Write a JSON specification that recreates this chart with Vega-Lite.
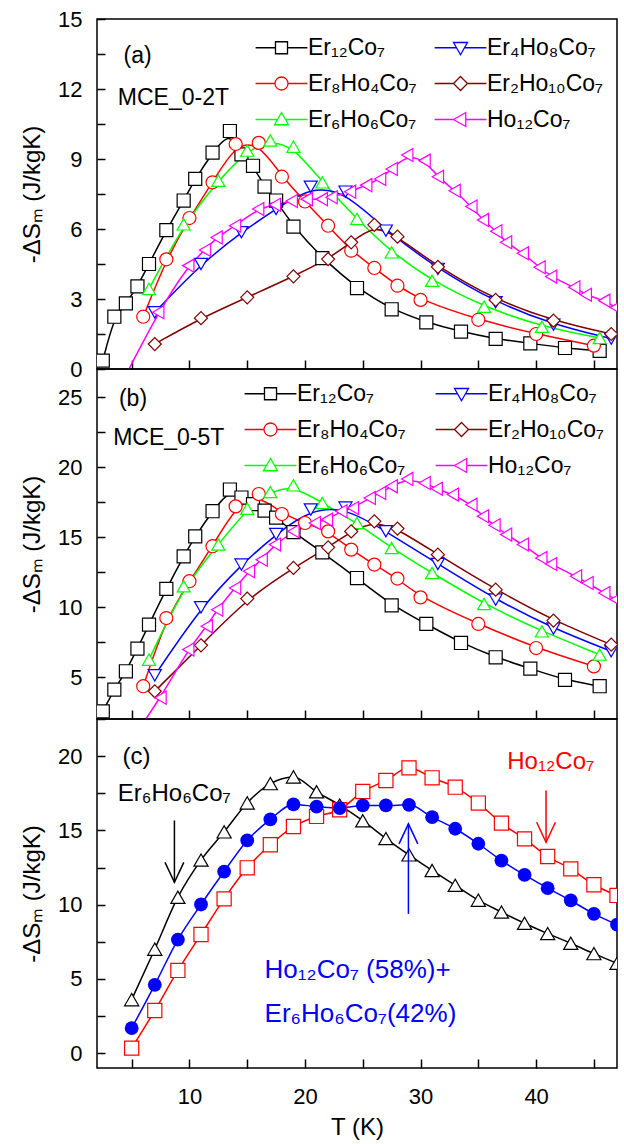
{
  "$schema": "https://vega.github.io/schema/vega-lite/v6.json",
  "background": "white",
  "padding": {"left": 19, "top": 7, "right": 5, "bottom": 5},
  "config": {
    "font": "Liberation Sans",
    "view": {"stroke": "black", "strokeWidth": 1.5},
    "axis": {"labelFont": "Liberation Sans", "labelFontSize": 22, "labelColor": "black", "titleFont": "Liberation Sans", "titleFontSize": 24, "titleFontWeight": "normal", "titleColor": "black", "tickColor": "black", "tickWidth": 1.5, "domain": false, "grid": false},
    "legend": {"labelFont": "Liberation Sans", "labelFontSize": 23, "labelColor": "black"}
  },
  "spacing": 0,
  "bounds": "flush",
  "resolve": {"scale": {"color": "independent", "shape": "independent"}, "legend": {"color": "independent", "shape": "independent"}},
  "datasets": {
    "a": [
      {"s":"Er₁₂Co₇","T":2.5,"v":0.36},{"s":"Er₁₂Co₇","T":3.5,"v":2.24},{"s":"Er₁₂Co₇","T":4.5,"v":2.81},{"s":"Er₁₂Co₇","T":5.5,"v":3.54},{"s":"Er₁₂Co₇","T":6.5,"v":4.5},{"s":"Er₁₂Co₇","T":8,"v":5.95},{"s":"Er₁₂Co₇","T":9.5,"v":7.22},{"s":"Er₁₂Co₇","T":10.5,"v":8.15},{"s":"Er₁₂Co₇","T":12,"v":9.27},{"s":"Er₁₂Co₇","T":13.5,"v":10.2},{"s":"Er₁₂Co₇","T":14.5,"v":9.2},{"s":"Er₁₂Co₇","T":15.5,"v":8.71},{"s":"Er₁₂Co₇","T":16.5,"v":7.82},{"s":"Er₁₂Co₇","T":17.5,"v":7.22},{"s":"Er₁₂Co₇","T":19,"v":6.1},{"s":"Er₁₂Co₇","T":21.5,"v":4.75},{"s":"Er₁₂Co₇","T":24.5,"v":3.47},{"s":"Er₁₂Co₇","T":27.5,"v":2.56},{"s":"Er₁₂Co₇","T":30.5,"v":2.0},{"s":"Er₁₂Co₇","T":33.5,"v":1.6},{"s":"Er₁₂Co₇","T":36.5,"v":1.29},{"s":"Er₁₂Co₇","T":39.5,"v":1.1},{"s":"Er₁₂Co₇","T":42.5,"v":0.9},{"s":"Er₁₂Co₇","T":45.5,"v":0.78},
      {"s":"Er₈Ho₄Co₇","T":6,"v":2.24},{"s":"Er₈Ho₄Co₇","T":8,"v":4.7},{"s":"Er₈Ho₄Co₇","T":10,"v":6.47},{"s":"Er₈Ho₄Co₇","T":12,"v":8.0},{"s":"Er₈Ho₄Co₇","T":14,"v":9.64},{"s":"Er₈Ho₄Co₇","T":16,"v":9.69},{"s":"Er₈Ho₄Co₇","T":18,"v":8.24},{"s":"Er₈Ho₄Co₇","T":20,"v":7.18},{"s":"Er₈Ho₄Co₇","T":22,"v":6.14},{"s":"Er₈Ho₄Co₇","T":24,"v":5.07},{"s":"Er₈Ho₄Co₇","T":26,"v":4.33},{"s":"Er₈Ho₄Co₇","T":28,"v":3.57},{"s":"Er₈Ho₄Co₇","T":30,"v":2.96},{"s":"Er₈Ho₄Co₇","T":35,"v":2.11},{"s":"Er₈Ho₄Co₇","T":40,"v":1.5},{"s":"Er₈Ho₄Co₇","T":45,"v":1.0},
      {"s":"Er₆Ho₆Co₇","T":6.5,"v":3.43},{"s":"Er₆Ho₆Co₇","T":9.5,"v":6.2},{"s":"Er₆Ho₆Co₇","T":12.5,"v":8.07},{"s":"Er₆Ho₆Co₇","T":15,"v":9.36},{"s":"Er₆Ho₆Co₇","T":17,"v":9.79},{"s":"Er₆Ho₆Co₇","T":19,"v":9.53},{"s":"Er₆Ho₆Co₇","T":21.5,"v":8.0},{"s":"Er₆Ho₆Co₇","T":24.5,"v":6.43},{"s":"Er₆Ho₆Co₇","T":27.5,"v":5.0},{"s":"Er₆Ho₆Co₇","T":31,"v":3.78},{"s":"Er₆Ho₆Co₇","T":35.5,"v":2.67},{"s":"Er₆Ho₆Co₇","T":40.5,"v":1.81},{"s":"Er₆Ho₆Co₇","T":45.5,"v":1.33},
      {"s":"Er₄Ho₈Co₇","T":7,"v":2.43},{"s":"Er₄Ho₈Co₇","T":11,"v":4.5},{"s":"Er₄Ho₈Co₇","T":14.5,"v":5.86},{"s":"Er₄Ho₈Co₇","T":17.5,"v":6.86},{"s":"Er₄Ho₈Co₇","T":20.5,"v":7.81},{"s":"Er₄Ho₈Co₇","T":23.5,"v":7.6},{"s":"Er₄Ho₈Co₇","T":27,"v":5.93},{"s":"Er₄Ho₈Co₇","T":31.5,"v":4.29},{"s":"Er₄Ho₈Co₇","T":36.5,"v":2.86},{"s":"Er₄Ho₈Co₇","T":41.5,"v":1.9},{"s":"Er₄Ho₈Co₇","T":46.5,"v":1.3},
      {"s":"Er₂Ho₁₀Co₇","T":7,"v":1.07},{"s":"Er₂Ho₁₀Co₇","T":11,"v":2.18},{"s":"Er₂Ho₁₀Co₇","T":15,"v":3.07},{"s":"Er₂Ho₁₀Co₇","T":19,"v":3.97},{"s":"Er₂Ho₁₀Co₇","T":22,"v":4.71},{"s":"Er₂Ho₁₀Co₇","T":24,"v":5.43},{"s":"Er₂Ho₁₀Co₇","T":26,"v":6.18},{"s":"Er₂Ho₁₀Co₇","T":28,"v":5.67},{"s":"Er₂Ho₁₀Co₇","T":31.5,"v":4.38},{"s":"Er₂Ho₁₀Co₇","T":36.5,"v":2.96},{"s":"Er₂Ho₁₀Co₇","T":41.5,"v":2.07},{"s":"Er₂Ho₁₀Co₇","T":46.5,"v":1.5},
      {"s":"Ho₁₂Co₇","T":4.25,"v":-0.5},{"s":"Ho₁₂Co₇","T":7.3,"v":2.43},{"s":"Ho₁₂Co₇","T":9.9,"v":4.43},{"s":"Ho₁₂Co₇","T":11.35,"v":5.1},{"s":"Ho₁₂Co₇","T":12.35,"v":5.64},{"s":"Ho₁₂Co₇","T":13.95,"v":6.14},{"s":"Ho₁₂Co₇","T":15.95,"v":6.86},{"s":"Ho₁₂Co₇","T":17.4,"v":7.04},{"s":"Ho₁₂Co₇","T":18.85,"v":7.2},{"s":"Ho₁₂Co₇","T":20.15,"v":7.28},{"s":"Ho₁₂Co₇","T":21.45,"v":7.28},{"s":"Ho₁₂Co₇","T":22.3,"v":7.36},{"s":"Ho₁₂Co₇","T":23.9,"v":7.6},{"s":"Ho₁₂Co₇","T":25.3,"v":7.88},{"s":"Ho₁₂Co₇","T":26.5,"v":8.14},{"s":"Ho₁₂Co₇","T":27.5,"v":8.57},{"s":"Ho₁₂Co₇","T":28.85,"v":9.17},{"s":"Ho₁₂Co₇","T":30.35,"v":8.93},{"s":"Ho₁₂Co₇","T":31.5,"v":8.24},{"s":"Ho₁₂Co₇","T":32.95,"v":7.64},{"s":"Ho₁₂Co₇","T":34.4,"v":6.96},{"s":"Ho₁₂Co₇","T":35.4,"v":6.39},{"s":"Ho₁₂Co₇","T":36.55,"v":5.9},{"s":"Ho₁₂Co₇","T":37.4,"v":5.43},{"s":"Ho₁₂Co₇","T":38.85,"v":4.96},{"s":"Ho₁₂Co₇","T":40.3,"v":4.36},{"s":"Ho₁₂Co₇","T":41.3,"v":3.96},{"s":"Ho₁₂Co₇","T":43.3,"v":3.5},{"s":"Ho₁₂Co₇","T":44.3,"v":3.18},{"s":"Ho₁₂Co₇","T":45.9,"v":2.93},{"s":"Ho₁₂Co₇","T":46.9,"v":2.64},{"s":"Ho₁₂Co₇","T":48,"v":2.35}
    ],
    "b": [
      {"s":"Er₁₂Co₇","T":2.5,"v":2.55},{"s":"Er₁₂Co₇","T":3.5,"v":4.1},{"s":"Er₁₂Co₇","T":4.5,"v":5.41},{"s":"Er₁₂Co₇","T":5.5,"v":7.03},{"s":"Er₁₂Co₇","T":6.5,"v":8.74},{"s":"Er₁₂Co₇","T":8,"v":11.29},{"s":"Er₁₂Co₇","T":9.5,"v":13.62},{"s":"Er₁₂Co₇","T":10.5,"v":15.05},{"s":"Er₁₂Co₇","T":12,"v":16.84},{"s":"Er₁₂Co₇","T":13.5,"v":18.39},{"s":"Er₁₂Co₇","T":14.5,"v":17.82},{"s":"Er₁₂Co₇","T":15.5,"v":17.35},{"s":"Er₁₂Co₇","T":16.5,"v":16.88},{"s":"Er₁₂Co₇","T":17.5,"v":16.38},{"s":"Er₁₂Co₇","T":19,"v":15.35},{"s":"Er₁₂Co₇","T":21.5,"v":13.9},{"s":"Er₁₂Co₇","T":24.5,"v":12.07},{"s":"Er₁₂Co₇","T":27.5,"v":10.12},{"s":"Er₁₂Co₇","T":30.5,"v":8.79},{"s":"Er₁₂Co₇","T":33.5,"v":7.43},{"s":"Er₁₂Co₇","T":36.5,"v":6.41},{"s":"Er₁₂Co₇","T":39.5,"v":5.6},{"s":"Er₁₂Co₇","T":42.5,"v":4.79},{"s":"Er₁₂Co₇","T":45.5,"v":4.34},
      {"s":"Er₈Ho₄Co₇","T":6,"v":4.34},{"s":"Er₈Ho₄Co₇","T":8,"v":9.21},{"s":"Er₈Ho₄Co₇","T":10,"v":11.84},{"s":"Er₈Ho₄Co₇","T":12,"v":14.34},{"s":"Er₈Ho₄Co₇","T":14,"v":17.19},{"s":"Er₈Ho₄Co₇","T":16,"v":18.07},{"s":"Er₈Ho₄Co₇","T":18,"v":16.64},{"s":"Er₈Ho₄Co₇","T":20,"v":16.0},{"s":"Er₈Ho₄Co₇","T":22,"v":15.4},{"s":"Er₈Ho₄Co₇","T":24,"v":14.1},{"s":"Er₈Ho₄Co₇","T":26,"v":13.03},{"s":"Er₈Ho₄Co₇","T":28,"v":12.03},{"s":"Er₈Ho₄Co₇","T":30,"v":10.69},{"s":"Er₈Ho₄Co₇","T":35,"v":8.79},{"s":"Er₈Ho₄Co₇","T":40,"v":7.07},{"s":"Er₈Ho₄Co₇","T":45,"v":5.76},
      {"s":"Er₆Ho₆Co₇","T":6.5,"v":6.24},{"s":"Er₆Ho₆Co₇","T":9.5,"v":11.48},{"s":"Er₆Ho₆Co₇","T":12.5,"v":14.46},{"s":"Er₆Ho₆Co₇","T":15,"v":17.02},{"s":"Er₆Ho₆Co₇","T":17,"v":18.21},{"s":"Er₆Ho₆Co₇","T":19,"v":18.69},{"s":"Er₆Ho₆Co₇","T":21.5,"v":17.43},{"s":"Er₆Ho₆Co₇","T":24.5,"v":16.0},{"s":"Er₆Ho₆Co₇","T":27.5,"v":14.21},{"s":"Er₆Ho₆Co₇","T":31,"v":12.43},{"s":"Er₆Ho₆Co₇","T":35.5,"v":10.21},{"s":"Er₆Ho₆Co₇","T":40.5,"v":8.26},{"s":"Er₆Ho₆Co₇","T":45.5,"v":6.6},
      {"s":"Er₄Ho₈Co₇","T":7,"v":5.12},{"s":"Er₄Ho₈Co₇","T":11,"v":9.98},{"s":"Er₄Ho₈Co₇","T":14.5,"v":13.03},{"s":"Er₄Ho₈Co₇","T":17.5,"v":15.21},{"s":"Er₄Ho₈Co₇","T":20.5,"v":16.96},{"s":"Er₄Ho₈Co₇","T":23.5,"v":17.1},{"s":"Er₄Ho₈Co₇","T":27,"v":15.41},{"s":"Er₄Ho₈Co₇","T":31.5,"v":13.07},{"s":"Er₄Ho₈Co₇","T":36.5,"v":10.53},{"s":"Er₄Ho₈Co₇","T":41.5,"v":8.46},{"s":"Er₄Ho₈Co₇","T":46.5,"v":6.84},
      {"s":"Er₂Ho₁₀Co₇","T":7,"v":3.98},{"s":"Er₂Ho₁₀Co₇","T":11,"v":7.26},{"s":"Er₂Ho₁₀Co₇","T":15,"v":10.6},{"s":"Er₂Ho₁₀Co₇","T":19,"v":12.79},{"s":"Er₂Ho₁₀Co₇","T":22,"v":14.26},{"s":"Er₂Ho₁₀Co₇","T":24,"v":15.4},{"s":"Er₂Ho₁₀Co₇","T":26,"v":16.12},{"s":"Er₂Ho₁₀Co₇","T":28,"v":15.6},{"s":"Er₂Ho₁₀Co₇","T":31.5,"v":13.74},{"s":"Er₂Ho₁₀Co₇","T":36.5,"v":11.24},{"s":"Er₂Ho₁₀Co₇","T":41.5,"v":9.03},{"s":"Er₂Ho₁₀Co₇","T":46.5,"v":7.31},
      {"s":"Ho₁₂Co₇","T":5,"v":0.5},{"s":"Ho₁₂Co₇","T":7.5,"v":3.52},{"s":"Ho₁₂Co₇","T":9.9,"v":6.96},{"s":"Ho₁₂Co₇","T":11.5,"v":8.62},{"s":"Ho₁₂Co₇","T":12.4,"v":9.81},{"s":"Ho₁₂Co₇","T":13.95,"v":11.36},{"s":"Ho₁₂Co₇","T":15.15,"v":12.55},{"s":"Ho₁₂Co₇","T":16.25,"v":13.38},{"s":"Ho₁₂Co₇","T":17.4,"v":14.46},{"s":"Ho₁₂Co₇","T":19,"v":15.41},{"s":"Ho₁₂Co₇","T":20.85,"v":16.0},{"s":"Ho₁₂Co₇","T":21.9,"v":16.24},{"s":"Ho₁₂Co₇","T":23.15,"v":16.84},{"s":"Ho₁₂Co₇","T":24.15,"v":17.07},{"s":"Ho₁₂Co₇","T":25.6,"v":17.79},{"s":"Ho₁₂Co₇","T":26.5,"v":18.14},{"s":"Ho₁₂Co₇","T":27.5,"v":18.62},{"s":"Ho₁₂Co₇","T":28.85,"v":19.15},{"s":"Ho₁₂Co₇","T":30.35,"v":18.86},{"s":"Ho₁₂Co₇","T":31.4,"v":18.45},{"s":"Ho₁₂Co₇","T":32.8,"v":18.03},{"s":"Ho₁₂Co₇","T":34.4,"v":17.31},{"s":"Ho₁₂Co₇","T":35.4,"v":16.48},{"s":"Ho₁₂Co₇","T":36.4,"v":15.84},{"s":"Ho₁₂Co₇","T":37.4,"v":15.17},{"s":"Ho₁₂Co₇","T":38.85,"v":14.46},{"s":"Ho₁₂Co₇","T":40.45,"v":13.5},{"s":"Ho₁₂Co₇","T":41.3,"v":13.07},{"s":"Ho₁₂Co₇","T":43.45,"v":12.19},{"s":"Ho₁₂Co₇","T":44.45,"v":11.71},{"s":"Ho₁₂Co₇","T":45.9,"v":11.0},{"s":"Ho₁₂Co₇","T":46.9,"v":10.53},{"s":"Ho₁₂Co₇","T":48,"v":10.0}
    ],
    "c": [
      {"s":"Er₆Ho₆Co₇","T":5,"v":3.6},{"s":"Er₆Ho₆Co₇","T":7,"v":7.0},{"s":"Er₆Ho₆Co₇","T":9,"v":10.5},{"s":"Er₆Ho₆Co₇","T":11,"v":13.0},{"s":"Er₆Ho₆Co₇","T":13,"v":14.9},{"s":"Er₆Ho₆Co₇","T":15,"v":16.85},{"s":"Er₆Ho₆Co₇","T":17,"v":18.15},{"s":"Er₆Ho₆Co₇","T":19,"v":18.6},{"s":"Er₆Ho₆Co₇","T":21,"v":17.6},{"s":"Er₆Ho₆Co₇","T":23,"v":16.7},{"s":"Er₆Ho₆Co₇","T":25,"v":15.65},{"s":"Er₆Ho₆Co₇","T":27,"v":14.45},{"s":"Er₆Ho₆Co₇","T":29,"v":13.35},{"s":"Er₆Ho₆Co₇","T":31,"v":12.3},{"s":"Er₆Ho₆Co₇","T":33,"v":11.3},{"s":"Er₆Ho₆Co₇","T":35,"v":10.3},{"s":"Er₆Ho₆Co₇","T":37,"v":9.5},{"s":"Er₆Ho₆Co₇","T":39,"v":8.75},{"s":"Er₆Ho₆Co₇","T":41,"v":8.05},{"s":"Er₆Ho₆Co₇","T":43,"v":7.4},{"s":"Er₆Ho₆Co₇","T":45,"v":6.7},{"s":"Er₆Ho₆Co₇","T":47,"v":6.05},
      {"s":"Ho₁₂Co₇","T":5,"v":0.34},{"s":"Ho₁₂Co₇","T":7,"v":2.87},{"s":"Ho₁₂Co₇","T":9,"v":5.57},{"s":"Ho₁₂Co₇","T":11,"v":7.99},{"s":"Ho₁₂Co₇","T":13,"v":10.39},{"s":"Ho₁₂Co₇","T":15,"v":12.48},{"s":"Ho₁₂Co₇","T":17,"v":14.03},{"s":"Ho₁₂Co₇","T":19,"v":15.26},{"s":"Ho₁₂Co₇","T":21,"v":15.94},{"s":"Ho₁₂Co₇","T":23,"v":16.39},{"s":"Ho₁₂Co₇","T":25,"v":17.62},{"s":"Ho₁₂Co₇","T":27,"v":18.36},{"s":"Ho₁₂Co₇","T":29,"v":19.21},{"s":"Ho₁₂Co₇","T":31,"v":18.54},{"s":"Ho₁₂Co₇","T":33,"v":17.91},{"s":"Ho₁₂Co₇","T":35,"v":16.84},{"s":"Ho₁₂Co₇","T":37,"v":15.49},{"s":"Ho₁₂Co₇","T":39,"v":14.43},{"s":"Ho₁₂Co₇","T":41,"v":13.24},{"s":"Ho₁₂Co₇","T":43,"v":12.41},{"s":"Ho₁₂Co₇","T":45,"v":11.34},{"s":"Ho₁₂Co₇","T":47,"v":10.62},
      {"s":"mix","T":5,"v":1.68},{"s":"mix","T":7,"v":4.6},{"s":"mix","T":9,"v":7.65},{"s":"mix","T":11,"v":10.01},{"s":"mix","T":13,"v":12.23},{"s":"mix","T":15,"v":14.32},{"s":"mix","T":17,"v":15.74},{"s":"mix","T":19,"v":16.75},{"s":"mix","T":21,"v":16.6},{"s":"mix","T":23,"v":16.5},{"s":"mix","T":25,"v":16.68},{"s":"mix","T":27,"v":16.68},{"s":"mix","T":29,"v":16.72},{"s":"mix","T":31,"v":15.89},{"s":"mix","T":33,"v":15.11},{"s":"mix","T":35,"v":14.1},{"s":"mix","T":37,"v":12.97},{"s":"mix","T":39,"v":12.0},{"s":"mix","T":41,"v":11.11},{"s":"mix","T":43,"v":10.28},{"s":"mix","T":45,"v":9.38},{"s":"mix","T":47,"v":8.66}
    ],
    "arrows": [
      {"s":"Er₆Ho₆Co₇","T":8.7,"v":11.5,"v2":15.67,"dir":"down"},
      {"s":"Ho₁₂Co₇","T":40.86,"v":14.2,"v2":17.69,"dir":"down"},
      {"s":"mix","T":28.95,"v":15.44,"v2":9.38,"dir":"up"}
    ],
    "notes": [
      {"p":"a","s":"none","T":4.3,"v":13.4,"text":"(a)"},
      {"p":"a","s":"none","T":3.8,"v":11.63,"text":"MCE_0-2T"},
      {"p":"b","s":"none","T":3.9,"v":24.84,"text":"(b)"},
      {"p":"b","s":"none","T":3.4,"v":22.05,"text":"MCE_0-5T"},
      {"p":"c","s":"none","T":4.2,"v":19.93,"text":"(c)"},
      {"p":"c","s":"Er₆Ho₆Co₇","T":3.8,"v":17.45,"text":"Er₆Ho₆Co₇"},
      {"p":"c","s":"Ho₁₂Co₇","T":37.5,"v":19.6,"text":"Ho₁₂Co₇"},
      {"p":"c","s":"mix","T":16.5,"v":5.57,"text":"Ho₁₂Co₇ (58%)+"},
      {"p":"c","s":"mix","T":16.5,"v":2.65,"text":"Er₆Ho₆Co₇(42%)"}
    ]
  },
  "vconcat": [
    {
      "width": 520, "height": 350,
      "resolve": {"scale": {"color": "independent", "shape": "independent"}},
      "encoding": {
        "x": {"field": "T", "type": "quantitative", "scale": {"domain": [2, 47], "nice": false, "zero": false},
              "axis": {"values": [5,10,15,20,25,30,35,40,45], "labels": false, "title": null, "tickSize": -9,
                       "encode": {"ticks": {"y2": {"value": {"expr": "datum.value % 10 === 0 ? -10 : -6"}}}}}},
        "y": {"field": "v", "type": "quantitative", "scale": {"domain": [0, 15], "nice": false, "zero": false},
              "axis": {"values": [0,1.5,3,4.5,6,7.5,9,10.5,12,13.5,15], "labelExpr": "datum.value % 3 === 0 ? datum.label : ''",
                       "title": "-ΔSₘ  (J/kgK)", "tickSize": -8, "labelPadding": 23, "titlePadding": 13,
                       "encode": {"ticks": {"x2": {"value": {"expr": "datum.value % 3 === 0 ? 9 : 5"}}}}}}
      },
      "layer": [
        {"data": {"name": "a"},
         "mark": {"type": "point", "opacity": 0, "filled": false, "fill": "white", "strokeWidth": 1.3, "size": 196},
         "encoding": {
           "color": {"field": "s", "type": "nominal",
             "scale": {"domain": ["Er₁₂Co₇","Er₈Ho₄Co₇","Er₆Ho₆Co₇","Er₄Ho₈Co₇","Er₂Ho₁₀Co₇","Ho₁₂Co₇"], "range": ["#000000","#FF0000","#00FF00","#0000FF","#800000","#FF00FF"]},
             "legend": {"values": ["Er₁₂Co₇","Er₈Ho₄Co₇","Er₆Ho₆Co₇","Er₄Ho₈Co₇","Er₂Ho₁₀Co₇","Ho₁₂Co₇"], "orient": "none", "legendX": 173, "legendY": 17, "columns": 2, "title": null, "symbolSize": 196, "symbolOpacity": 1, "symbolFillColor": "white", "symbolStrokeWidth": 1.3, "labelOffset": 15, "rowPadding": 12, "columnPadding": 14, "padding": 0}},
           "shape": {"field": "s", "type": "nominal",
             "scale": {"domain": ["Er₁₂Co₇","Er₈Ho₄Co₇","Er₆Ho₆Co₇","Er₄Ho₈Co₇","Er₂Ho₁₀Co₇","Ho₁₂Co₇"],
                       "range": ["M-3.7,0H-0.86M0.86,0H3.7M-0.86,-0.86H0.86V0.86H-0.86Z","M-3.7,0H-0.93M0.93,0H3.7M0.93,0A0.93,0.93,0,1,1,-0.93,0A0.93,0.93,0,1,1,0.93,0Z","M-3.7,0H-0.57M0.57,0H3.7M0,-1L1,0.75L-1,0.75Z","M-3.7,0H-0.57M0.57,0H3.7M0,1L1,-0.75L-1,-0.75Z","M-3.7,0H-1M1,0H3.7M0,-1L1,0L0,1L-1,0Z","M-3.7,0H-1M0.75,0H3.7M-1,0L0.75,-1L0.75,1Z"]},
             "legend": {"values": ["Er₁₂Co₇","Er₈Ho₄Co₇","Er₆Ho₆Co₇","Er₄Ho₈Co₇","Er₂Ho₁₀Co₇","Ho₁₂Co₇"], "orient": "none", "legendX": 173, "legendY": 17, "columns": 2, "title": null, "symbolSize": 196, "symbolOpacity": 1, "symbolFillColor": "white", "symbolStrokeWidth": 1.3, "labelOffset": 15, "rowPadding": 12, "columnPadding": 14, "padding": 0}}
         }},
        {"data": {"name": "a"},
         "mark": {"type": "line", "interpolate": "basis", "strokeWidth": 1.5, "clip": true},
         "encoding": {"color": {"field": "s", "type": "nominal",
            "scale": {"domain": ["Er₁₂Co₇","Er₈Ho₄Co₇","Er₆Ho₆Co₇","Er₄Ho₈Co₇","Er₂Ho₁₀Co₇","Ho₁₂Co₇"], "range": ["#000000","#FF0000","#00FF00","#0000FF","#800000","#FF00FF"]},
            "legend": null}}},
        {"data": {"name": "a"},
         "mark": {"type": "point", "filled": false, "fill": "white", "strokeWidth": 1.2, "size": 170, "opacity": 1, "clip": true},
         "encoding": {
           "color": {"field": "s", "type": "nominal",
            "scale": {"domain": ["Er₁₂Co₇","Er₈Ho₄Co₇","Er₆Ho₆Co₇","Er₄Ho₈Co₇","Er₂Ho₁₀Co₇","Ho₁₂Co₇"], "range": ["#000000","#FF0000","#00FF00","#0000FF","#800000","#FF00FF"]},
            "legend": null},
           "shape": {"field": "s", "type": "nominal",
            "scale": {"domain": ["Er₁₂Co₇","Er₈Ho₄Co₇","Er₆Ho₆Co₇","Er₄Ho₈Co₇","Er₂Ho₁₀Co₇","Ho₁₂Co₇"], "range": ["square","circle","triangle-up","triangle-down","diamond","triangle-left"]},
            "legend": null}
         }},
        {"data": {"name": "notes"}, "transform": [{"filter": "datum.p === 'a'"}],
         "mark": {"type": "text", "align": "left", "baseline": "middle", "fontSize": 23, "color": "black"},
         "encoding": {"text": {"field": "text"}}}
      ]
    },
    {
      "width": 520, "height": 350,
      "resolve": {"scale": {"color": "independent", "shape": "independent"}},
      "encoding": {
        "x": {"field": "T", "type": "quantitative", "scale": {"domain": [2, 47], "nice": false, "zero": false},
              "axis": {"values": [5,10,15,20,25,30,35,40,45], "labels": false, "title": null, "tickSize": -9,
                       "encode": {"ticks": {"y2": {"value": {"expr": "datum.value % 10 === 0 ? -10 : -6"}}}}}},
        "y": {"field": "v", "type": "quantitative", "scale": {"domain": [2, 27], "nice": false, "zero": false},
              "axis": {"values": [2.5,5,7.5,10,12.5,15,17.5,20,22.5,25], "labelExpr": "datum.value % 5 === 0 ? datum.label : ''",
                       "title": "-ΔSₘ  (J/kgK)", "tickSize": -8, "labelPadding": 23, "titlePadding": 13,
                       "encode": {"ticks": {"x2": {"value": {"expr": "datum.value % 5 === 0 ? 9 : 5"}}}}}}
      },
      "layer": [
        {"data": {"name": "b"},
         "mark": {"type": "point", "opacity": 0, "filled": false, "fill": "white", "strokeWidth": 1.3, "size": 196},
         "encoding": {
           "color": {"field": "s", "type": "nominal",
             "scale": {"domain": ["Er₁₂Co₇","Er₈Ho₄Co₇","Er₆Ho₆Co₇","Er₄Ho₈Co₇","Er₂Ho₁₀Co₇","Ho₁₂Co₇"], "range": ["#000000","#FF0000","#00FF00","#0000FF","#800000","#FF00FF"]},
             "legend": {"values": ["Er₁₂Co₇","Er₈Ho₄Co₇","Er₆Ho₆Co₇","Er₄Ho₈Co₇","Er₂Ho₁₀Co₇","Ho₁₂Co₇"], "orient": "none", "legendX": 162, "legendY": 13, "columns": 2, "title": null, "symbolSize": 196, "symbolOpacity": 1, "symbolFillColor": "white", "symbolStrokeWidth": 1.3, "labelOffset": 15, "rowPadding": 12, "columnPadding": 26, "padding": 0}},
           "shape": {"field": "s", "type": "nominal",
             "scale": {"domain": ["Er₁₂Co₇","Er₈Ho₄Co₇","Er₆Ho₆Co₇","Er₄Ho₈Co₇","Er₂Ho₁₀Co₇","Ho₁₂Co₇"],
                       "range": ["M-3.7,0H-0.86M0.86,0H3.7M-0.86,-0.86H0.86V0.86H-0.86Z","M-3.7,0H-0.93M0.93,0H3.7M0.93,0A0.93,0.93,0,1,1,-0.93,0A0.93,0.93,0,1,1,0.93,0Z","M-3.7,0H-0.57M0.57,0H3.7M0,-1L1,0.75L-1,0.75Z","M-3.7,0H-0.57M0.57,0H3.7M0,1L1,-0.75L-1,-0.75Z","M-3.7,0H-1M1,0H3.7M0,-1L1,0L0,1L-1,0Z","M-3.7,0H-1M0.75,0H3.7M-1,0L0.75,-1L0.75,1Z"]},
             "legend": {"values": ["Er₁₂Co₇","Er₈Ho₄Co₇","Er₆Ho₆Co₇","Er₄Ho₈Co₇","Er₂Ho₁₀Co₇","Ho₁₂Co₇"], "orient": "none", "legendX": 162, "legendY": 13, "columns": 2, "title": null, "symbolSize": 196, "symbolOpacity": 1, "symbolFillColor": "white", "symbolStrokeWidth": 1.3, "labelOffset": 15, "rowPadding": 12, "columnPadding": 26, "padding": 0}}
         }},
        {"data": {"name": "b"},
         "mark": {"type": "line", "interpolate": "basis", "strokeWidth": 1.5, "clip": true},
         "encoding": {"color": {"field": "s", "type": "nominal",
            "scale": {"domain": ["Er₁₂Co₇","Er₈Ho₄Co₇","Er₆Ho₆Co₇","Er₄Ho₈Co₇","Er₂Ho₁₀Co₇","Ho₁₂Co₇"], "range": ["#000000","#FF0000","#00FF00","#0000FF","#800000","#FF00FF"]},
            "legend": null}}},
        {"data": {"name": "b"},
         "mark": {"type": "point", "filled": false, "fill": "white", "strokeWidth": 1.2, "size": 170, "opacity": 1, "clip": true},
         "encoding": {
           "color": {"field": "s", "type": "nominal",
            "scale": {"domain": ["Er₁₂Co₇","Er₈Ho₄Co₇","Er₆Ho₆Co₇","Er₄Ho₈Co₇","Er₂Ho₁₀Co₇","Ho₁₂Co₇"], "range": ["#000000","#FF0000","#00FF00","#0000FF","#800000","#FF00FF"]},
            "legend": null},
           "shape": {"field": "s", "type": "nominal",
            "scale": {"domain": ["Er₁₂Co₇","Er₈Ho₄Co₇","Er₆Ho₆Co₇","Er₄Ho₈Co₇","Er₂Ho₁₀Co₇","Ho₁₂Co₇"], "range": ["square","circle","triangle-up","triangle-down","diamond","triangle-left"]},
            "legend": null}
         }},
        {"data": {"name": "notes"}, "transform": [{"filter": "datum.p === 'b'"}],
         "mark": {"type": "text", "align": "left", "baseline": "middle", "fontSize": 23, "color": "black"},
         "encoding": {"text": {"field": "text"}}}
      ]
    },
    {
      "width": 520, "height": 349,
      "encoding": {
        "x": {"field": "T", "type": "quantitative", "scale": {"domain": [2, 47], "nice": false, "zero": false},
              "axis": {"values": [5,10,15,20,25,30,35,40,45], "labelExpr": "datum.value % 10 === 0 ? datum.label : ''", "title": "T (K)", "tickSize": -9, "labelPadding": 27, "titlePadding": 8,
                       "encode": {"ticks": {"y2": {"value": {"expr": "datum.value % 10 === 0 ? -10 : -6"}}}}}},
        "y": {"field": "v", "type": "quantitative", "scale": {"domain": [-1, 22.5], "nice": false, "zero": false},
              "axis": {"values": [0,2.5,5,7.5,10,12.5,15,17.5,20,22.5], "labelExpr": "datum.value % 5 === 0 ? datum.label : ''",
                       "title": "-ΔSₘ  (J/kgK)", "tickSize": -8, "labelPadding": 23, "titlePadding": 13,
                       "encode": {"ticks": {"x2": {"value": {"expr": "datum.value % 5 === 0 ? 9 : 5"}}}}}}
      },
      "layer": [
        {"data": {"name": "c"},
         "mark": {"type": "line", "interpolate": "monotone", "strokeWidth": 1.5, "clip": true},
         "encoding": {"color": {"field": "s", "type": "nominal", "scale": {"domain": ["Er₆Ho₆Co₇","Ho₁₂Co₇","mix","none"], "range": ["#000000","#FF0000","#0000FF","#000000"]}, "legend": null}}},
        {"data": {"name": "c"}, "transform": [{"filter": "datum.s !== 'mix'"}],
         "mark": {"type": "point", "filled": false, "fill": "white", "strokeWidth": 1.2, "size": 200, "opacity": 1, "clip": true},
         "encoding": {
           "color": {"field": "s", "type": "nominal", "scale": {"domain": ["Er₆Ho₆Co₇","Ho₁₂Co₇","mix","none"], "range": ["#000000","#FF0000","#0000FF","#000000"]}, "legend": null},
           "shape": {"field": "s", "type": "nominal", "scale": {"domain": ["Er₆Ho₆Co₇","Ho₁₂Co₇","mix","none"], "range": ["triangle-up","square","circle","circle"]}, "legend": null}
         }},
        {"data": {"name": "c"}, "transform": [{"filter": "datum.s === 'mix'"}],
         "mark": {"type": "point", "filled": true, "size": 190, "opacity": 1, "clip": true},
         "encoding": {
           "color": {"field": "s", "type": "nominal", "scale": {"domain": ["Er₆Ho₆Co₇","Ho₁₂Co₇","mix","none"], "range": ["#000000","#FF0000","#0000FF","#000000"]}, "legend": null},
           "shape": {"field": "s", "type": "nominal", "scale": {"domain": ["Er₆Ho₆Co₇","Ho₁₂Co₇","mix","none"], "range": ["triangle-up","square","circle","circle"]}, "legend": null}
         }},
        {"data": {"name": "arrows"},
         "mark": {"type": "rule", "strokeWidth": 1.5},
         "encoding": {"y2": {"field": "v2"}, "color": {"field": "s", "type": "nominal", "scale": {"domain": ["Er₆Ho₆Co₇","Ho₁₂Co₇","mix","none"], "range": ["#000000","#FF0000","#0000FF","#000000"]}, "legend": null}}},
        {"data": {"name": "arrows"}, "transform": [{"filter": "datum.dir === 'down'"}],
         "mark": {"type": "point", "shape": "M-0.47,-1L0,0L0.47,-1", "size": 1600, "filled": false, "strokeWidth": 1.5, "opacity": 1},
         "encoding": {"color": {"field": "s", "type": "nominal", "scale": {"domain": ["Er₆Ho₆Co₇","Ho₁₂Co₇","mix","none"], "range": ["#000000","#FF0000","#0000FF","#000000"]}, "legend": null}}},
        {"data": {"name": "arrows"}, "transform": [{"filter": "datum.dir === 'up'"}],
         "mark": {"type": "point", "shape": "M-0.47,1L0,0L0.47,1", "size": 1600, "filled": false, "strokeWidth": 1.5, "opacity": 1},
         "encoding": {"color": {"field": "s", "type": "nominal", "scale": {"domain": ["Er₆Ho₆Co₇","Ho₁₂Co₇","mix","none"], "range": ["#000000","#FF0000","#0000FF","#000000"]}, "legend": null}}},
        {"data": {"name": "notes"}, "transform": [{"filter": "datum.p === 'c' && datum.s !== 'mix'"}],
         "mark": {"type": "text", "align": "left", "baseline": "middle", "fontSize": 24},
         "encoding": {"text": {"field": "text"}, "color": {"field": "s", "type": "nominal", "scale": {"domain": ["Er₆Ho₆Co₇","Ho₁₂Co₇","mix","none"], "range": ["#000000","#FF0000","#0000FF","#000000"]}, "legend": null}}},
        {"data": {"name": "notes"}, "transform": [{"filter": "datum.p === 'c' && datum.s === 'mix'"}],
         "mark": {"type": "text", "align": "left", "baseline": "middle", "fontSize": 26},
         "encoding": {"text": {"field": "text"}, "color": {"field": "s", "type": "nominal", "scale": {"domain": ["Er₆Ho₆Co₇","Ho₁₂Co₇","mix","none"], "range": ["#000000","#FF0000","#0000FF","#000000"]}, "legend": null}}}
      ]
    }
  ]
}
